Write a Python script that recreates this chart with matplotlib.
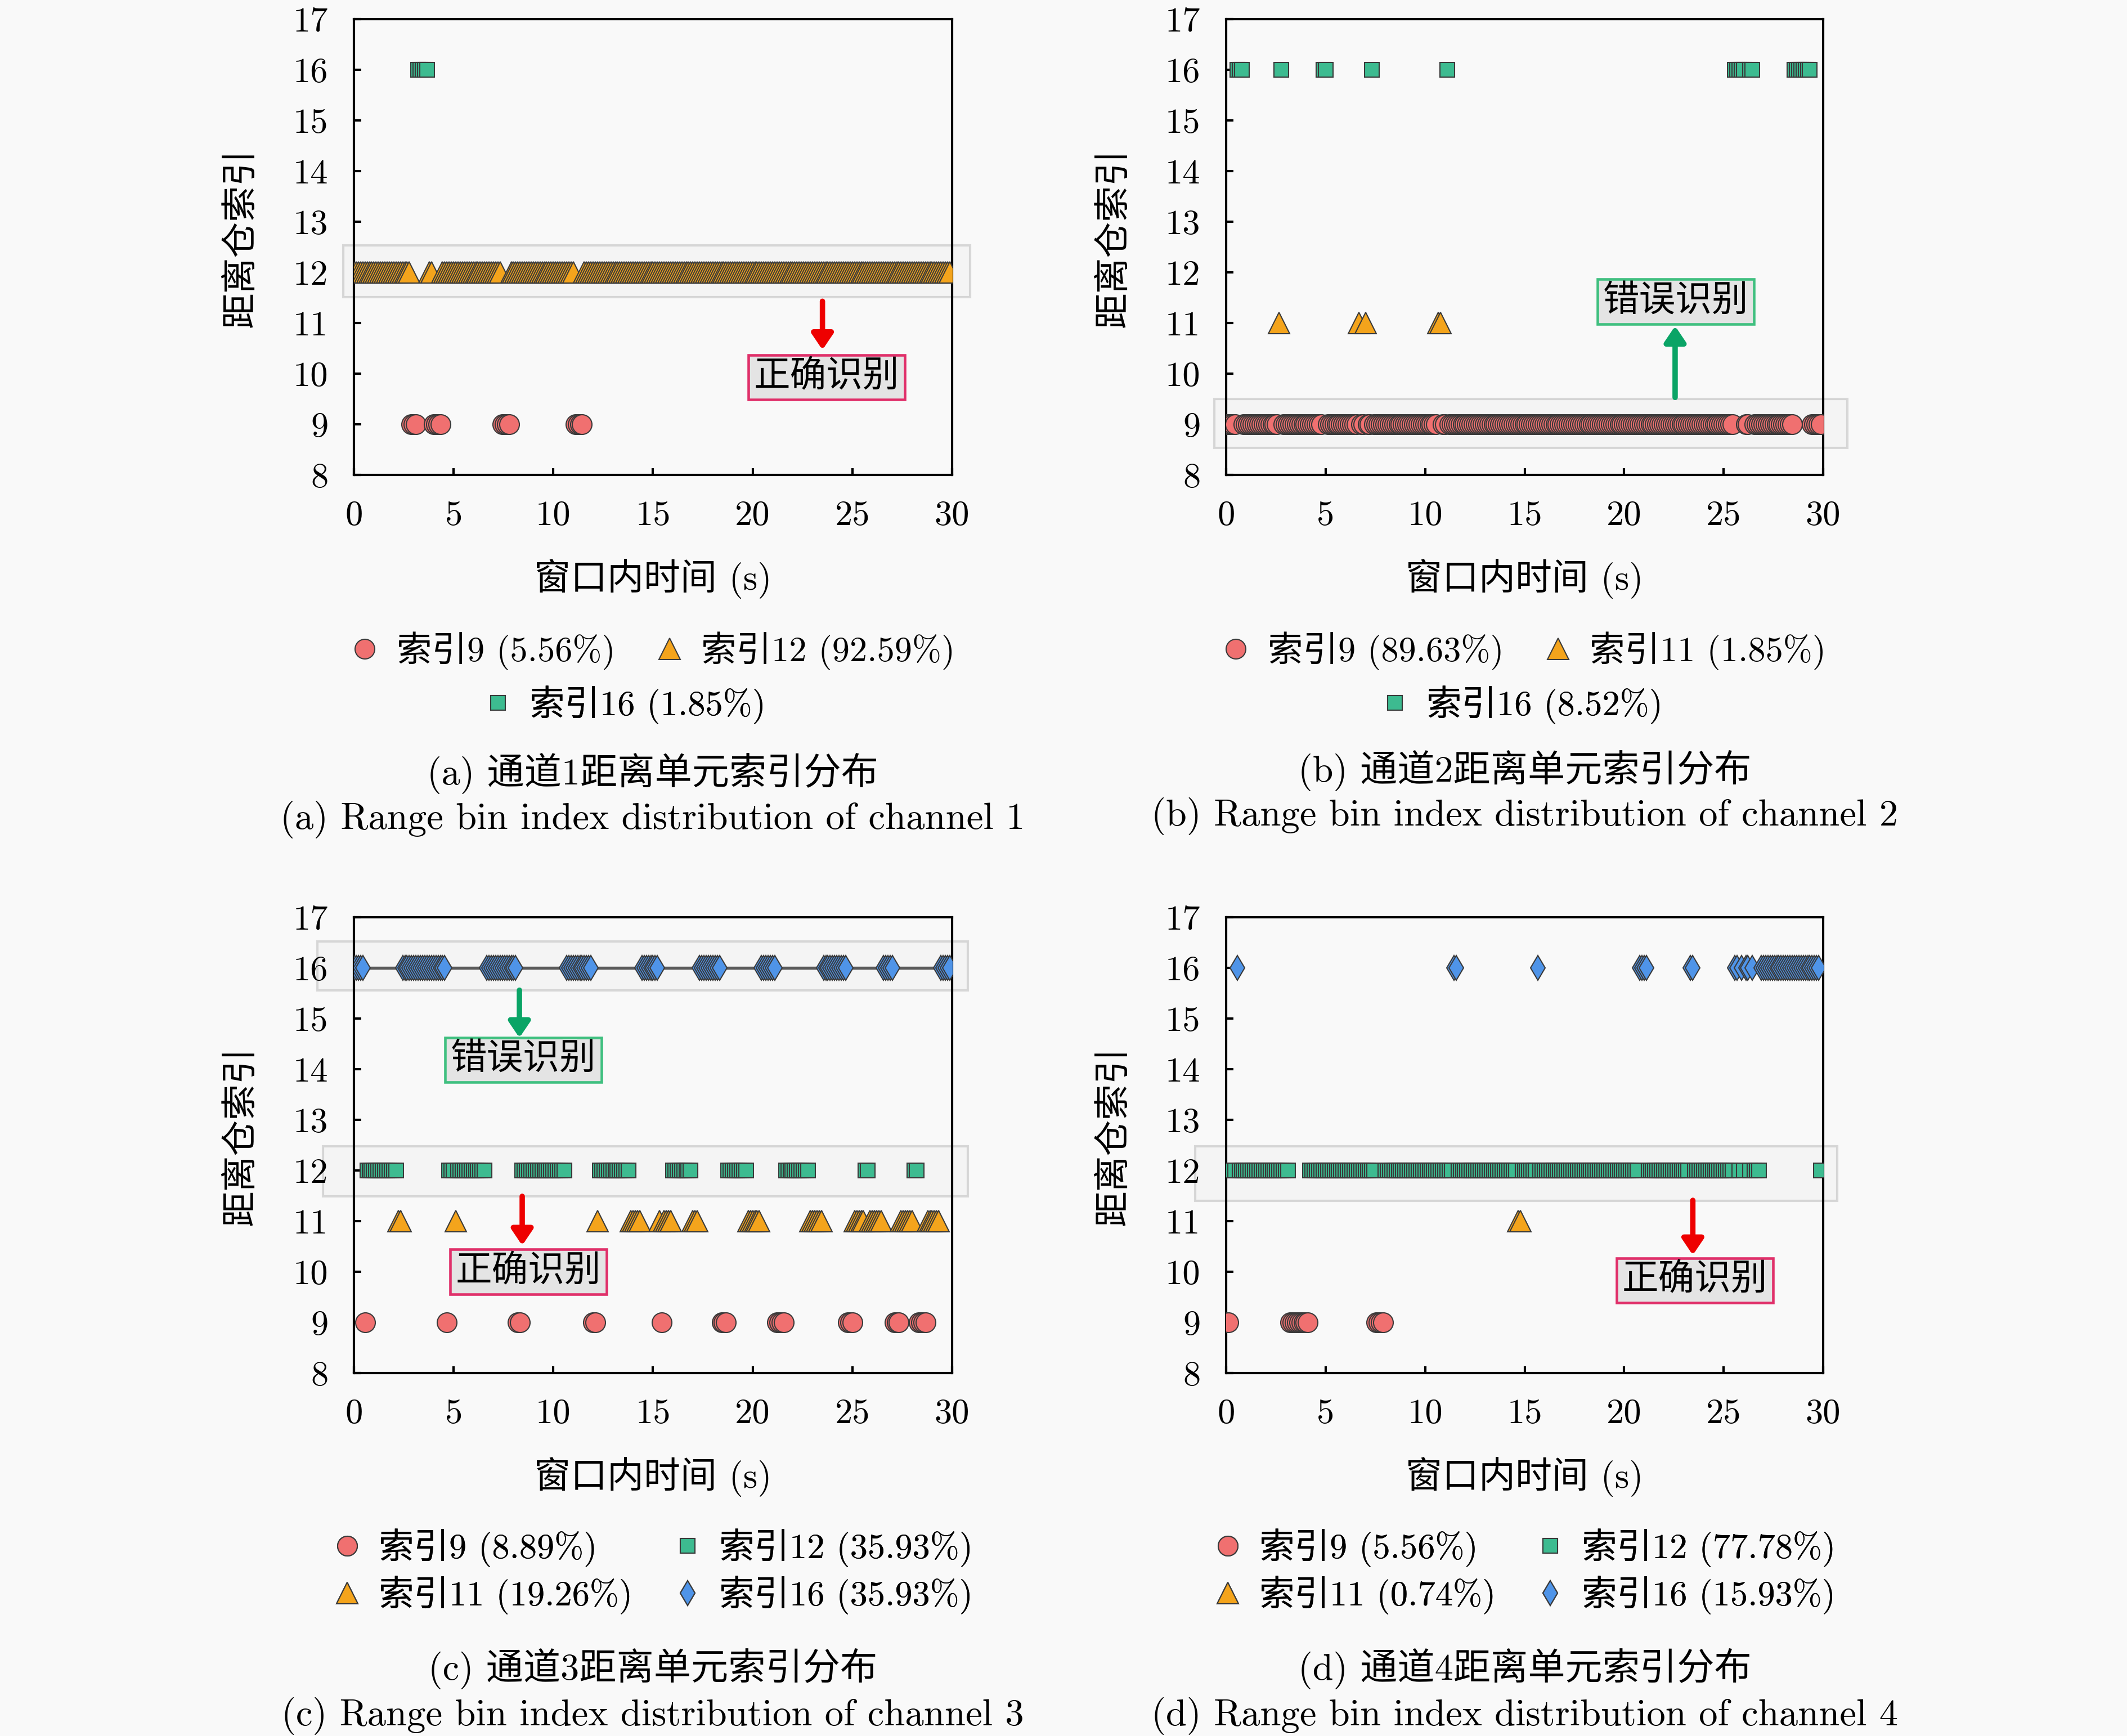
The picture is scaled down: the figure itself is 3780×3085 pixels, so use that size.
import numpy as np
import matplotlib
matplotlib.use('Agg')
import matplotlib.pyplot as plt
from matplotlib.patches import Rectangle

plt.rcParams['font.family'] = ['cmr10', 'Noto Sans CJK SC']
plt.rcParams['axes.unicode_minus'] = False
plt.rcParams['mathtext.fontset'] = 'cm'
plt.rcParams['axes.formatter.use_mathtext'] = True

# ---------------- data ----------------
SAMPLE_RATE = 9.0        # samples per second in the 30 s window (270 samples)
x_ticks = [0, 5, 10, 15, 20, 25, 30]
y_ticks = [8, 9, 10, 11, 12, 13, 14, 15, 16, 17]

# range-bin index of every sample, run-length encoded as (index, count)
runs_a = [(12, 26), (9, 3), (16, 5), (12, 2), (9, 4), (12, 27), (9, 4), (12, 29),
          (9, 4), (12, 166)]
runs_b = [(9, 5), (16, 3), (9, 16), (11, 1), (16, 1), (9, 18), (16, 2), (9, 14),
          (11, 1), (9, 2), (11, 1), (9, 2), (16, 1), (9, 29), (11, 2), (9, 2),
          (16, 1), (9, 129), (16, 5), (9, 2), (16, 2), (9, 18), (16, 8), (9, 5)]
runs_c = [(16, 5), (9, 1), (12, 14), (11, 2), (16, 20), (9, 1), (12, 3), (11, 1),
          (12, 13), (16, 14), (9, 2), (12, 20), (16, 12), (9, 2), (11, 1), (12, 14),
          (11, 5), (16, 8), (11, 1), (9, 1), (11, 4), (12, 9), (11, 3), (16, 10),
          (9, 3), (12, 9), (11, 6), (16, 7), (9, 4), (12, 11), (11, 6), (16, 11),
          (9, 3), (11, 5), (12, 2), (11, 6), (16, 5), (9, 3), (11, 6), (12, 2),
          (9, 4), (11, 6), (16, 5)]
runs_d = [(9, 2), (12, 3), (16, 1), (12, 23), (9, 9), (12, 30), (9, 4), (12, 31),
          (16, 2), (12, 27), (11, 2), (12, 7), (16, 1), (12, 45), (16, 4), (12, 19),
          (16, 2), (12, 18), (16, 2), (12, 1), (16, 1), (12, 1), (16, 2), (12, 1),
          (16, 1), (12, 3), (16, 27), (12, 1)]

indices_a = [9, 12, 16]
indices_b = [9, 11, 16]
indices_c = [9, 11, 12, 16]
indices_d = [9, 11, 12, 16]

labels_a = ['索引9 (5.56%)', '索引12 (92.59%)', '索引16 (1.85%)']
labels_b = ['索引9 (89.63%)', '索引11 (1.85%)', '索引16 (8.52%)']
labels_c = ['索引9 (8.89%)', '索引11 (19.26%)', '索引12 (35.93%)', '索引16 (35.93%)']
labels_d = ['索引9 (5.56%)', '索引11 (0.74%)', '索引12 (77.78%)', '索引16 (15.93%)']

captions_cn = ['(a) 通道1距离单元索引分布', '(b) 通道2距离单元索引分布',
               '(c) 通道3距离单元索引分布', '(d) 通道4距离单元索引分布']
captions_en = ['(a) Range bin index distribution of channel 1',
               '(b) Range bin index distribution of channel 2',
               '(c) Range bin index distribution of channel 3',
               '(d) Range bin index distribution of channel 4']

xlabel_text = '窗口内时间 (s)'
ylabel_text = '距离仓索引'
note_ok = '正确识别'
note_err = '错误识别'

# ---------------- styles ----------------
FS = 15
BG = '#f9f9f9'
EDGE = '#3a3a3a'
marker_styles = [
    dict(marker='o', ms=8.4, mfc='#F07070', mec=EDGE, mew=0.5),
    dict(marker='^', ms=9.2, mfc='#F4A41C', mec=EDGE, mew=0.5),
    dict(marker='s', ms=6.2, mfc='#3DBB90', mec=EDGE, mew=0.5),
    dict(marker='d', ms=7.6, mfc='#4F94E8', mec=EDGE, mew=0.5),
]
RED = '#ee0000'
GREEN = '#0aa466'

panels = [
    dict(runs=runs_a, idx=indices_a, labels=labels_a,
         pos=[0.1664, 0.72642, 0.2812, 0.26256],
         boxes=[(-0.54, 30.9, 11.51, 12.53)],
         notes=[(note_ok, RED, '#e0306a', (23.5, 11.43), (23.5, 10.47), (23.7, 9.93))],
         legend_rows=[([0, 1], (0.4986, -0.3864)), ([2], (0.4516, -0.505))],
         cap=(0.3069, 0.5546, 0.5280), line16=False),
    dict(runs=runs_b, idx=indices_b, labels=labels_b,
         pos=[0.57646, 0.72642, 0.2807, 0.26256],
         boxes=[(-0.6, 31.2, 8.53, 9.5)],
         notes=[(note_err, GREEN, '#40c080', (22.56, 9.53), (22.56, 10.94), (22.6, 11.42))],
         legend_rows=[([0, 1], (0.4976, -0.3864)), ([2], (0.494, -0.505))],
         cap=(0.7169, 0.5562, 0.5297), line16=False),
    dict(runs=runs_c, idx=indices_c, labels=labels_c,
         pos=[0.1664, 0.20908, 0.2812, 0.26256],
         boxes=[(-1.83, 30.8, 15.56, 16.52), (-1.55, 30.8, 11.49, 12.48)],
         notes=[(note_err, GREEN, '#40c080', (8.3, 15.56), (8.3, 14.62), (8.5, 14.18)),
                (note_ok, RED, '#e0306a', (8.44, 11.49), (8.44, 10.52), (8.75, 10.0))],
         legend_rows=[([0, 1, 2, 3], (0.4986, -0.435))],
         cap=(0.3069, 0.0389, 0.01135), line16=True),
    dict(runs=runs_d, idx=indices_d, labels=labels_d,
         pos=[0.57646, 0.20908, 0.2807, 0.26256],
         boxes=[(-1.55, 30.7, 11.4, 12.48)],
         notes=[(note_ok, RED, '#e0306a', (23.45, 11.41), (23.45, 10.33), (23.55, 9.83))],
         legend_rows=[([0, 1, 2, 3], (0.4986, -0.435))],
         cap=(0.7169, 0.0389, 0.01135), line16=False),
]

fig = plt.figure(figsize=(12.6, 3085 / 300), dpi=300, facecolor=BG)

for k, p in enumerate(panels):
    ax = fig.add_axes(p['pos'])
    ax.set_facecolor(BG)
    seq = np.repeat([r[0] for r in p['runs']], [r[1] for r in p['runs']])
    t = np.arange(len(seq)) / SAMPLE_RATE

    handles = []
    for j, idx in enumerate(p['idx']):
        sel = seq == idx
        if p['line16'] and idx == 16:
            ax.plot(t[sel], seq[sel], color='#5a5a5a', lw=1.3, zorder=2.5)
        h, = ax.plot(t[sel], seq[sel], linestyle='none', zorder=3,
                     **marker_styles[j])
        handles.append(h)

    for (x0, x1, y0, y1) in p['boxes']:
        ax.add_patch(Rectangle((x0, y0), x1 - x0, y1 - y0, facecolor='#f0f0f0',
                               alpha=0.5, edgecolor='#b8b8b8', lw=1.0,
                               clip_on=False, zorder=1.5))

    for (txt, acol, ecol, tail, head, tpos) in p['notes']:
        ax.annotate('', xy=head, xytext=tail,
                    arrowprops=dict(arrowstyle='-|>,head_length=0.4,head_width=0.27',
                                    color=acol, lw=2.3, shrinkA=0, shrinkB=0,
                                    mutation_scale=14), zorder=4)
        ax.text(tpos[0], tpos[1], txt, ha='center', va='center', fontsize=15.5,
                zorder=5,
                bbox=dict(boxstyle='square,pad=0.15', facecolor='#e4e4e4',
                          edgecolor=ecol, lw=1.1))

    ax.set_xlim(0, 30)
    ax.set_ylim(8, 17)
    ax.set_xticks(x_ticks)
    ax.set_xticklabels([str(v) for v in x_ticks])
    ax.set_yticks(y_ticks)
    ax.set_yticklabels([str(v) for v in y_ticks])
    ax.tick_params(direction='in', length=3, width=1.0, labelsize=FS,
                   top=False, right=False)
    ax.tick_params(axis='y', pad=11)
    ax.tick_params(axis='x', pad=11)
    for s in ax.spines.values():
        s.set_linewidth(1.0)

    ax.set_xlabel(xlabel_text, fontsize=15.6)
    ax.xaxis.set_label_coords(0.5, -0.2284)
    ax.xaxis.label.set_va('center')
    ax.set_ylabel(ylabel_text, fontsize=15.3)
    ax.yaxis.set_label_coords(-0.188, 0.52)
    ax.yaxis.label.set_va('center')

    for cols, anchor in p['legend_rows']:
        leg = ax.legend([handles[i] for i in cols], [p['labels'][i] for i in cols],
                        ncol=min(2, len(cols)), loc='center', bbox_to_anchor=anchor,
                        frameon=False, fontsize=FS, handlelength=0.9,
                        handletextpad=0.45, columnspacing=1.1, borderaxespad=0,
                        borderpad=0, labelspacing=0.25)
        ax.add_artist(leg)

    cx, y1, y2 = p['cap']
    fig.text(cx, y1, captions_cn[k], ha='center', va='center', fontsize=15.9)
    fig.text(cx, y2, captions_en[k], ha='center', va='center', fontsize=16)

fig.savefig('out.png', dpi=300, facecolor=BG)
